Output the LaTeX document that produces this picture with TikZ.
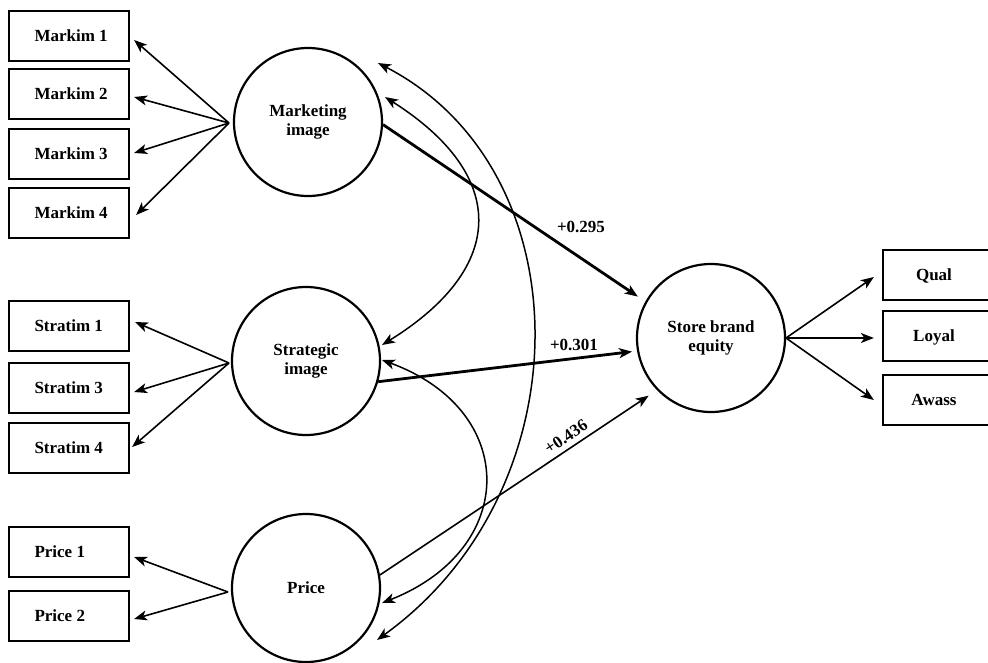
\documentclass[tikz,border=0pt]{standalone}
\usepackage{fontspec}
\setmainfont{Liberation Serif}
\usetikzlibrary{arrows.meta}
\begin{document}
\begin{tikzpicture}[x=1pt,y=-1pt,
  font=\fontsize{17}{19}\selectfont\bfseries,
  indbox/.style={draw,line width=2.2pt,minimum width=120pt,minimum height=50pt,inner sep=0pt},
  latent/.style={draw,circle,line width=2.2pt,minimum size=148pt,inner sep=0pt,align=center},
  hd/.style={Stealth[length=13pt,width=10pt,inset=3.5pt]},
  tip/.style={-{Stealth[length=13pt,width=10pt,inset=3.5pt]}},
  load/.style={tip,line width=1.6pt},
  path/.style={tip,line width=2.8pt},
  cov/.style={{Stealth[length=13pt,width=10pt,inset=3.5pt]}-{Stealth[length=13pt,width=10pt,inset=3.5pt]},line width=1.5pt},
  lbl/.style={inner sep=0pt}]
\useasboundingbox (0,0) rectangle (988,662);
\clip (0,0) rectangle (988,662);
% left indicator boxes
\node[indbox] (m1) at (69,36) {}; \node[anchor=west] at (31,36) {Markim 1};
\node[indbox] (m2) at (69,94) {}; \node[anchor=west] at (31,94) {Markim 2};
\node[indbox] (m3) at (69,154) {}; \node[anchor=west] at (31,154) {Markim 3};
\node[indbox] (m4) at (69,213) {}; \node[anchor=west] at (31,213) {Markim 4};
\node[indbox] (s1) at (69,326) {}; \node[anchor=west] at (31,326) {Stratim 1};
\node[indbox] (s3) at (69,388) {}; \node[anchor=west] at (31,388) {Stratim 3};
\node[indbox] (s4) at (69,448) {}; \node[anchor=west] at (31,448) {Stratim 4};
\node[indbox] (p1) at (69,552) {}; \node[anchor=west] at (31,552) {Price 1};
\node[indbox] (p2) at (69,616) {}; \node[anchor=west] at (31,616) {Price 2};
% right indicator boxes
\node[indbox] (q) at (943,275) {}; \node at (934,276) {Qual};
\node[indbox] (l) at (943,336) {}; \node at (934,337) {Loyal};
\node[indbox] (a) at (943,400) {}; \node at (934,400) {Awass};
% latent variables
\node[latent] (mi) at (308,122) {Marketing\\image};
\node[latent] (si) at (306,361) {Strategic\\image};
\node[latent] (pr) at (306,588) {Price};
\node[latent] (sbe) at (711,338) {Store brand\\equity};
% convergence points
\coordinate (miL) at (229,123);
\coordinate (siL) at (229,363);
\coordinate (prL) at (228,592);
\coordinate (sbeR) at (786,338);
% loadings
\draw[load] (miL) -- ([xshift=4pt,yshift=-4pt]m1.east);
\draw[load] (miL) -- ([xshift=4pt,yshift=-3pt]m2.east);
\draw[load] (miL) -- ([xshift=4pt,yshift=1pt]m3.east);
\draw[load] (miL) -- ([xshift=6pt,yshift=-2pt]m4.east);
\draw[load] (siL) -- ([xshift=5pt,yshift=4pt]s1.east);
\draw[load] (siL) -- ([xshift=4pt,yshift=-4pt]s3.east);
\draw[load] (siL) -- ([xshift=2pt,yshift=1pt]s4.east);
\draw[load] (prL) -- ([xshift=4pt,yshift=-5pt]p1.east);
\draw[load] (prL) -- ([xshift=4pt,yshift=-3pt]p2.east);
\draw[load] (sbeR) -- ([xshift=-8pt,yshift=-2pt]q.west);
\draw[load] (sbeR) -- ([xshift=-8pt,yshift=-2pt]l.west);
\draw[load] (sbeR) -- ([xshift=-8pt]a.west);
% structural paths
\draw[path,shorten >=9pt] (mi.-2) -- (sbe.151);
\draw[path,shorten >=5pt] (si.-16) -- (sbe.190);
\draw[load,shorten >=10pt] (pr.10) -- (sbe.224);
\node[lbl] at (581,227) {+0.295};
\node[lbl] at (574,345) {+0.301};
\node[lbl,rotate=34] at (566,437) {+0.436};
% covariances
\coordinate (c1a) at (385,97);
\coordinate (c1b) at (382,345);
\coordinate (c2a) at (378,63);
\coordinate (c2b) at (377,640);
\coordinate (c3a) at (382,360);
\coordinate (c3b) at (382,603);
\draw[cov] (c1a) .. controls (508,175) and (508,267) .. (c1b);
\draw[cov] (c2a) .. controls (585,170) and (585,490) .. (c2b);
\draw[cov] (c3a) .. controls (519,410) and (519,549) .. (c3b);
\end{tikzpicture}
\end{document}
